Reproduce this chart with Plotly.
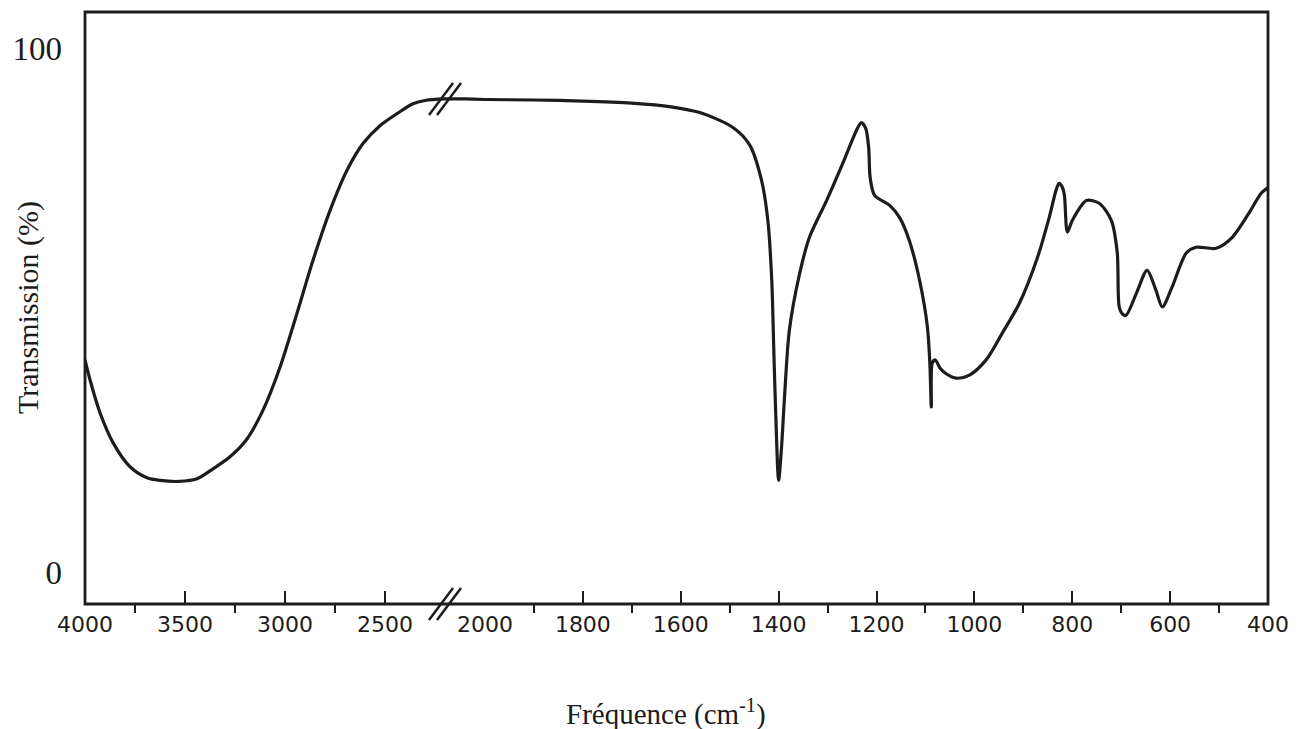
import plotly.graph_objects as go

# ---- data ----
wavenumber = [4000, 3975, 3925, 3860, 3775, 3690, 3625, 3530, 3440, 3360, 3275, 3190,
              3110, 3025, 2940, 2860, 2775, 2690, 2610, 2525, 2440, 2360, 2300, 2200,
              2100, 2000, 1900, 1800, 1700, 1620, 1561, 1494, 1459, 1435, 1422, 1414,
              1410, 1406, 1400, 1394, 1388, 1378, 1357, 1337, 1302, 1269, 1241, 1231,
              1222, 1216, 1213, 1204, 1173, 1153, 1133, 1112, 1096, 1091, 1088, 1086,
              1080, 1070, 1057, 1037, 1010, 976, 943, 908, 873, 847, 833, 827, 820,
              816, 810, 800, 771, 745, 720, 708, 704, 697, 690, 669, 647, 629, 616,
              596, 567, 547, 506, 473, 439, 414, 400]
transmission = [40.6, 36.8, 30.5, 24.8, 20.2, 18.1, 17.6, 17.4, 17.9, 19.8, 22.1, 25.5,
                31.0, 39.2, 49.5, 59.6, 69.1, 76.8, 81.9, 85.3, 87.6, 89.5, 90.1, 90.4,
                90.4, 90.3, 90.2, 90.0, 89.6, 88.9, 87.8, 85.0, 81.6, 74.9, 67.2, 55.8,
                43.0, 30.5, 17.6, 24.0, 33.5, 46.3, 57.1, 64.0, 71.0, 78.1, 84.4, 85.9,
                84.8, 81.1, 75.4, 72.0, 70.1, 67.8, 63.4, 55.8, 46.9, 40.0, 31.6, 40.0,
                40.6, 39.0, 37.9, 37.1, 37.7, 40.6, 45.7, 51.4, 59.6, 67.8, 73.0, 74.3, 73.5,
                72.0, 65.0, 67.2, 71.0, 70.5, 67.2, 61.0, 50.7, 49.3, 49.1, 53.3, 57.7, 53.9, 50.7,
                54.5, 61.0, 62.1, 61.9, 64.0, 68.6, 72.4, 73.5]

high_ticks = [4000, 3500, 3000, 2500, 2000]
low_ticks = [1800, 1600, 1400, 1200, 1000, 800, 600, 400]
high_minor = [3750, 3250, 2750]
low_minor = [1900, 1700, 1500, 1300, 1100, 900, 700, 500]
y_ticks = [0, 100]
y_tick_text = ["0", "100"]
scale_change = 2000       # chart expands below 2000 cm-1
break_at = 2220           # position of the "//" break marks

# ---- layout geometry ----
W, H = 1302, 729
ml, mr, mt, mb = 85, 34, 12, 125
frac_high = 400 / (W - ml - mr)

hi_x = [w for w in wavenumber if w >= scale_change]
hi_y = [t for w, t in zip(wavenumber, transmission) if w >= scale_change]
lo_x = [w for w in wavenumber if w <= scale_change]
lo_y = [t for w, t in zip(wavenumber, transmission) if w <= scale_change]

ink = "#1c1c1c"
line = dict(color=ink, width=3.2, shape="spline", smoothing=0.8)

fig = go.Figure()
fig.add_trace(go.Scatter(x=hi_x, y=hi_y, mode="lines", line=line, xaxis="x", yaxis="y",
                         showlegend=False, hoverinfo="skip"))
fig.add_trace(go.Scatter(x=lo_x, y=lo_y, mode="lines", line=line, xaxis="x2", yaxis="y",
                         showlegend=False, hoverinfo="skip"))

tickfont = dict(family="DejaVu Sans", size=22, color=ink)
common_x = dict(showgrid=False, zeroline=False, showline=False, ticks="inside",
                ticklen=13, tickwidth=2, tickcolor=ink, tickfont=tickfont,
                ticklabelstandoff=5, anchor="y")
fig.update_layout(
    width=W, height=H,
    margin=dict(l=ml, r=mr, t=mt, b=mb, autoexpand=False),
    paper_bgcolor="white", plot_bgcolor="white",
    xaxis=dict(domain=[0, frac_high], range=[4000, scale_change], tickmode="array",
               tickvals=high_ticks, ticktext=[str(v) for v in high_ticks],
               minor=dict(tickvals=high_minor, ticks="outside", ticklen=8,
                          tickwidth=2, tickcolor=ink),
               **common_x),
    xaxis2=dict(domain=[frac_high, 1], range=[scale_change, 400], tickmode="array",
                tickvals=low_ticks, ticktext=[str(v) for v in low_ticks],
                minor=dict(tickvals=low_minor, ticks="outside", ticklen=8,
                           tickwidth=2, tickcolor=ink),
                **common_x),
    yaxis=dict(range=[-6, 107], showgrid=False, zeroline=False, showline=False,
               tickmode="array", tickvals=y_ticks, ticktext=y_tick_text, ticks="",
               tickfont=dict(family="Liberation Serif", size=33, color=ink),
               ticklabelstandoff=22, anchor="x"),
)

# frame
fig.add_shape(type="rect", xref="paper", yref="paper", x0=0, y0=0, x1=1, y1=1,
              line=dict(color=ink, width=2.8), layer="above")

# break marks "//" on the axis and on the curve
for yref, yanchor in (("paper", 0), ("y", 90.4)):
    for dx in (0, 8):
        fig.add_shape(type="line", xref="x", yref=yref, xsizemode="pixel",
                      ysizemode="pixel", xanchor=break_at, yanchor=yanchor,
                      x0=-12 + dx, x1=12 + dx, y0=-16, y1=16,
                      line=dict(color=ink, width=2.5))

# axis titles
fig.add_annotation(text="Fréquence (cm<sup>-1</sup>)", xref="paper", yref="paper",
                   x=(666 - ml) / (W - ml - mr), y=0, yshift=-108, xanchor="center",
                   yanchor="middle", showarrow=False,
                   font=dict(family="Liberation Serif", size=29, color=ink))
fig.add_annotation(text="Transmission (%)", xref="paper", yref="paper",
                   x=0, xshift=-57, y=0.5, xanchor="center", yanchor="middle",
                   textangle=-90, showarrow=False,
                   font=dict(family="Liberation Serif", size=30, color=ink))

fig.write_html("out.html", config={"displayModeBar": False},
               post_script="document.body.style.margin='0';")
